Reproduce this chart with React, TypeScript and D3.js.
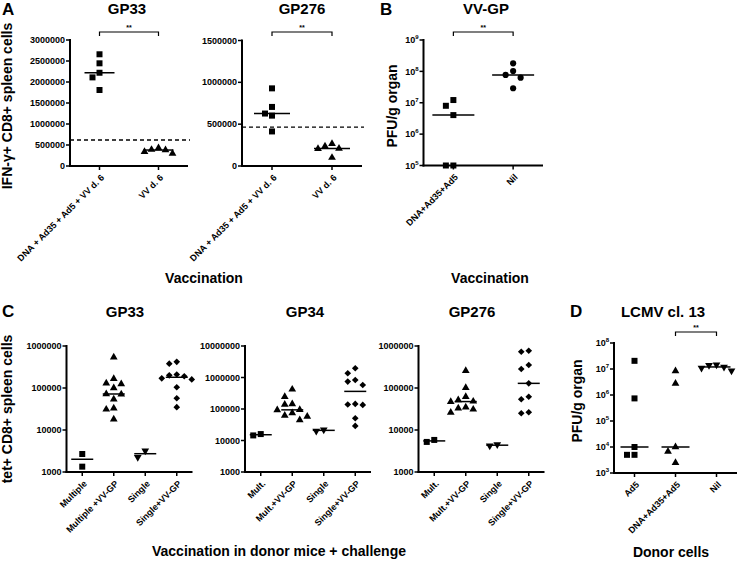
import React from "react";
import * as d3 from "d3";

// ---------- Panel A ----------
const aCategories = ["DNA + Ad35 + Ad5 + VV d. 6", "VV d. 6"];
const aGP33Vaccine = [2660000, 2445000, 2220000, 2110000, 1810000];
const aGP33VV = [430000, 390000, 380000, 340000, 300000];
const aGP33Cutoff = 620000;
const aGP33Ticks = [0, 500000, 1000000, 1500000, 2000000, 2500000, 3000000];
const aGP276Vaccine = [928000, 706000, 627000, 602000, 413000];
const aGP276VV = [265000, 236000, 210000, 205000, 100000];
const aGP276Cutoff = 465000;
const aGP276Ticks = [0, 500000, 1000000, 1500000];

// ---------- Panel B ----------
const bCategories = ["DNA+Ad35+Ad5", "Nil"];
const bVaccine = [12200000, 8000000, 4040000, 100000, 100000];
const bNil = [180000000, 102000000, 77000000, 63000000, 29000000];
const bTickExponents = [5, 6, 7, 8, 9];

// ---------- Panel C ----------
const cCategoriesGP33 = ["Multiple", "Multiple +VV-GP", "Single", "Single+VV-GP"];
const cCategoriesShort = ["Mult.", "Mult.+VV-GP", "Single", "Single+VV-GP"];
const cGP33Multiple = [2680, 1340];
const cGP33MultipleVV = [540000, 166000, 130000, 125000, 100000, 72000, 71000, 54000, 33000, 31000, 18000];
const cGP33Single = [3210, 2240];
const cGP33SingleVV = [420000, 380000, 210000, 200000, 190000, 170000, 160000, 104000, 57000, 35000];
const cGP34Multiple = [16000, 14500];
const cGP34MultipleVV = [420000, 245000, 145000, 140000, 95000, 93000, 75000, 62000, 58000, 45000];
const cGP34Single = [22000, 20000];
const cGP34SingleVV = [1960000, 1360000, 830000, 740000, 580000, 145000, 139000, 135000, 51000, 29000];
const cGP276Multiple = [5800, 5200];
const cGP276MultipleVV = [258000, 102000, 62000, 52000, 48000, 47000, 35000, 33000, 31000, 26000];
const cGP276Single = [4500, 4200];
const cGP276SingleVV = [773000, 731000, 353000, 283000, 129000, 62000, 54000, 26400, 25000];
const cTicksGP33 = [1000, 10000, 100000, 1000000];
const cTicksGP34 = [1000, 10000, 100000, 1000000, 10000000];

// ---------- Panel D ----------
const dCategories = ["Ad5", "DNA+Ad35+Ad5", "Nil"];
const dAd5 = [20600000, 740000, 10000, 5000, 5000];
const dVaccine = [8400000, 2750000, 10000, 6700, 2500];
const dNil = [14500000, 14000000, 12000000, 11000000, 8500000];
const dTickExponents = [3, 4, 5, 6, 7, 8];

const FONT = "'Liberation Sans', Arial, Helvetica, sans-serif";

const symbolTypes: Record<string, any> = {
  square: d3.symbolSquare,
  triangle: d3.symbolTriangle,
  invTriangle: d3.symbolTriangle,
  circle: d3.symbolCircle,
  diamond: (d3 as any).symbolDiamond2 || d3.symbolDiamond,
};
const symbolSizes: Record<string, number> = {
  square: 36,
  triangle: 26,
  invTriangle: 26,
  circle: 30,
  diamond: 28,
};

function swarm(values: number[], y: (v: number) => number, cx: number, gap: number) {
  const pts = values.map((v) => ({ v, y: y(v), x: cx }));
  const order = [...pts].sort((a, b) => a.y - b.y);
  const placed: { x: number; y: number }[] = [];
  for (const p of order) {
    for (let k = 0; k < 30; k++) {
      const step = Math.ceil(k / 2) * (k % 2 === 1 ? -1 : 1);
      const x = cx + step * gap;
      if (placed.every((q) => Math.abs(q.x - x) >= gap - 0.01 || Math.abs(q.y - p.y) >= gap)) {
        p.x = x;
        placed.push({ x, y: p.y });
        break;
      }
    }
  }
  return pts;
}

type Group = { values: number[]; symbol: string };

function Panel(props: {
  x0: number;
  x1: number;
  y: any;
  categories: string[];
  groups: Group[];
  ticks: number[];
  renderTick: (t: number) => React.ReactNode;
  lineHalf: number;
  gap: number;
  cutoff?: number;
  bracket?: [number, number, number];
}) {
  const { x0, x1, y, categories, groups, ticks, renderTick, lineHalf, gap, cutoff, bracket } = props;
  const xs = d3.scalePoint<string>().domain(categories).range([x0, x1]).padding(0.5);
  const [yBottom, yTop] = y.range();
  const clampY = (v: number) => {
    const d = y.domain();
    return y(Math.max(d[0], Math.min(d[1], v)));
  };
  return (
    <g>
      {cutoff !== undefined && (
        <line x1={x0} x2={x1 + 2} y1={y(cutoff)} y2={y(cutoff)} stroke="#000" strokeWidth={1.4} strokeDasharray="4,3" />
      )}
      {groups.map((g, gi) => {
        const cx = xs(categories[gi]) as number;
        const pts = swarm(g.values, clampY, cx, gap);
        const med = d3.median(g.values) as number;
        const gen = d3.symbol(symbolTypes[g.symbol], symbolSizes[g.symbol]);
        const rot = g.symbol === "invTriangle" ? " rotate(180)" : "";
        return (
          <g key={gi}>
            {pts.map((p, i) => (
              <path key={i} d={gen() as string} transform={`translate(${p.x},${p.y})${rot}`} fill="#000" />
            ))}
            <line x1={cx - lineHalf} x2={cx + lineHalf} y1={clampY(med)} y2={clampY(med)} stroke="#000" strokeWidth={1.5} />
          </g>
        );
      })}
      <line x1={x0} x2={x0} y1={yTop - 1} y2={yBottom + 1} stroke="#000" strokeWidth={2} />
      <line x1={x0 - 1} x2={x1} y1={yBottom} y2={yBottom} stroke="#000" strokeWidth={2} />
      {ticks.map((t) => (
        <g key={t}>
          <line x1={x0 - 4} x2={x0} y1={y(t)} y2={y(t)} stroke="#000" strokeWidth={1.5} />
          <text x={x0 - 5} y={y(t)} dy="0.35em" textAnchor="end" fontSize={9} fontWeight="bold" fontFamily={FONT}>
            {renderTick(t)}
          </text>
        </g>
      ))}
      {categories.map((c) => {
        const cx = xs(c) as number;
        return (
          <g key={c}>
            <line x1={cx} x2={cx} y1={yBottom} y2={yBottom + 4} stroke="#000" strokeWidth={1.5} />
            <text
              transform={`translate(${cx + 3},${yBottom + 10}) rotate(-45)`}
              textAnchor="end"
              dy="0.35em"
              fontSize={9}
              fontWeight="bold"
              fontFamily={FONT}
            >
              {c}
            </text>
          </g>
        );
      })}
      {bracket && (() => {
        const bx1 = xs(categories[bracket[0]]) as number;
        const bx2 = xs(categories[bracket[1]]) as number;
        const by = bracket[2];
        return (
          <g>
            <path d={`M${bx1},${by + 4}V${by}H${bx2}V${by + 4}`} fill="none" stroke="#000" strokeWidth={1.2} />
            <text x={(bx1 + bx2) / 2} y={by - 2.5} textAnchor="middle" fontSize={7} fontWeight="bold" fontFamily={FONT}>
              **
            </text>
          </g>
        );
      })()}
    </g>
  );
}

const plainTick = (t: number) => d3.format("d")(t);
const powTick = (t: number) => {
  const e = Math.round(Math.log10(t));
  return (
    <>
      10
      <tspan dy="-4" fontSize={6}>
        {e}
      </tspan>
    </>
  );
};

function Label(p: { x: number; y: number; size: number; text: string; anchor?: string; rotate?: boolean }) {
  return (
    <text
      x={p.rotate ? 0 : p.x}
      y={p.rotate ? 0 : p.y}
      transform={p.rotate ? `translate(${p.x},${p.y}) rotate(-90)` : undefined}
      textAnchor={p.anchor || "middle"}
      fontSize={p.size}
      fontWeight="bold"
      fontFamily={FONT}
    >
      {p.text}
    </text>
  );
}

export default function App() {
  const yA33 = d3.scaleLinear().domain([0, 3000000]).range([166, 40]);
  const yA276 = d3.scaleLinear().domain([0, 1500000]).range([166, 40.5]);
  const yB = d3.scaleLog().domain([1e5, 1e9]).range([165.5, 40]);
  const yC33 = d3.scaleLog().domain([1e3, 1e6]).range([472, 346]);
  const yC34 = d3.scaleLog().domain([1e3, 1e7]).range([472, 346]);
  const yC276 = d3.scaleLog().domain([1e3, 1e6]).range([472, 346]);
  const yD = d3.scaleLog().domain([1e3, 1e8]).range([473, 343]);

  return (
    <svg width={740} height={562} style={{ position: "absolute", left: 0, top: 0, background: "#fff" }}>
      <rect width={740} height={562} fill="#fff" />
      {/* Panel A */}
      <Label x={2} y={15} size={17} text="A" anchor="start" />
      <Label x={127} y={14} size={15} text="GP33" />
      <Label x={302} y={14} size={15} text="GP276" />
      <Label x={12} y={106} size={14} text="IFN-γ+ CD8+ spleen cells" rotate />
      <Panel
        x0={70}
        x1={188}
        y={yA33}
        categories={aCategories}
        groups={[
          { values: aGP33Vaccine, symbol: "square" },
          { values: aGP33VV, symbol: "triangle" },
        ]}
        ticks={aGP33Ticks}
        renderTick={plainTick}
        lineHalf={15}
        gap={7}
        cutoff={aGP33Cutoff}
        bracket={[0, 1, 32]}
      />
      <Panel
        x0={242}
        x1={362}
        y={yA276}
        categories={aCategories}
        groups={[
          { values: aGP276Vaccine, symbol: "square" },
          { values: aGP276VV, symbol: "triangle" },
        ]}
        ticks={aGP276Ticks}
        renderTick={plainTick}
        lineHalf={18}
        gap={7}
        cutoff={aGP276Cutoff}
        bracket={[0, 1, 32]}
      />
      <Label x={204} y={283} size={14} text="Vaccination" />

      {/* Panel B */}
      <Label x={380} y={15} size={17} text="B" anchor="start" />
      <Label x={486} y={14} size={15} text="VV-GP" />
      <Label x={397} y={106} size={14} text="PFU/g organ" rotate />
      <Panel
        x0={423.5}
        x1={543}
        y={yB}
        categories={bCategories}
        groups={[
          { values: bVaccine, symbol: "square" },
          { values: bNil, symbol: "circle" },
        ]}
        ticks={bTickExponents.map((e) => Math.pow(10, e))}
        renderTick={powTick}
        lineHalf={21}
        gap={7.5}
        bracket={[0, 1, 32]}
      />
      <Label x={490} y={283} size={14} text="Vaccination" />

      {/* Panel C */}
      <Label x={2} y={317} size={17} text="C" anchor="start" />
      <Label x={125} y={317} size={15} text="GP33" />
      <Label x={305} y={317} size={15} text="GP34" />
      <Label x={472} y={317} size={15} text="GP276" />
      <Label x={12} y={409} size={14} text="tet+ CD8+ spleen cells" rotate />
      <Panel
        x0={66.5}
        x1={192.5}
        y={yC33}
        categories={cCategoriesGP33}
        groups={[
          { values: cGP33Multiple, symbol: "square" },
          { values: cGP33MultipleVV, symbol: "triangle" },
          { values: cGP33Single, symbol: "invTriangle" },
          { values: cGP33SingleVV, symbol: "diamond" },
        ]}
        ticks={cTicksGP33}
        renderTick={plainTick}
        lineHalf={11}
        gap={7.5}
      />
      <Panel
        x0={245}
        x1={371}
        y={yC34}
        categories={cCategoriesShort}
        groups={[
          { values: cGP34Multiple, symbol: "square" },
          { values: cGP34MultipleVV, symbol: "triangle" },
          { values: cGP34Single, symbol: "invTriangle" },
          { values: cGP34SingleVV, symbol: "diamond" },
        ]}
        ticks={cTicksGP34}
        renderTick={plainTick}
        lineHalf={11}
        gap={7.5}
      />
      <Panel
        x0={418.5}
        x1={544.5}
        y={yC276}
        categories={cCategoriesShort}
        groups={[
          { values: cGP276Multiple, symbol: "square" },
          { values: cGP276MultipleVV, symbol: "triangle" },
          { values: cGP276Single, symbol: "invTriangle" },
          { values: cGP276SingleVV, symbol: "diamond" },
        ]}
        ticks={cTicksGP33}
        renderTick={plainTick}
        lineHalf={11}
        gap={7.5}
      />
      <Label x={279} y={556} size={14} text="Vaccination in donor mice + challenge" />

      {/* Panel D */}
      <Label x={570} y={317} size={17} text="D" anchor="start" />
      <Label x={663} y={317} size={15} text="LCMV cl. 13" />
      <Label x={582} y={401} size={14} text="PFU/g organ" rotate />
      <Panel
        x0={614}
        x1={737}
        y={yD}
        categories={dCategories}
        groups={[
          { values: dAd5, symbol: "square" },
          { values: dVaccine, symbol: "triangle" },
          { values: dNil, symbol: "invTriangle" },
        ]}
        ticks={dTickExponents.map((e) => Math.pow(10, e))}
        renderTick={powTick}
        lineHalf={14}
        gap={7.5}
        bracket={[1, 2, 332]}
      />
      <Label x={671} y={557} size={14} text="Donor cells" />
    </svg>
  );
}
